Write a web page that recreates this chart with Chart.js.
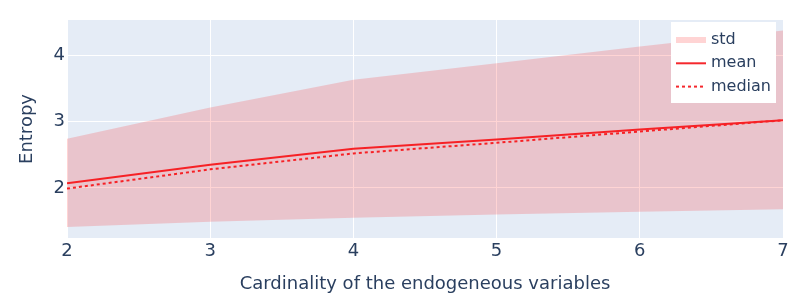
<!DOCTYPE html>
<html>
<head>
<meta charset="utf-8">
<script src="https://cdn.jsdelivr.net/npm/chart.js@4"></script>
<style>
  html, body { margin: 0; padding: 0; background: #fff; }
  #wrap { width: 797px; height: 297px; position: relative; }
</style>
</head>
<body>
<div id="wrap"><canvas id="chart"></canvas></div>
<script>
// values
const cardinality = [2, 3, 4, 5, 6, 7];
const meanEntropy = [2.07, 2.35, 2.59, 2.73, 2.88, 3.02];
const medianEntropy = [1.99, 2.28, 2.52, 2.68, 2.85, 3.02];
const stdUpper = [2.74, 3.21, 3.63, 3.88, 4.13, 4.37];
const stdLower = [1.41, 1.49, 1.55, 1.60, 1.64, 1.68];
const yTicks = [2, 3, 4];

const FONT = 'DejaVu Sans';
const TEXT = '#2a3f5f';
const LINE = 'rgb(245, 40, 45)';
const FILL = 'rgba(255, 0, 0, 0.17)';

const toPoints = vals => vals.map((v, i) => ({ x: cardinality[i], y: v }));

// plot background
const plotBg = {
  id: 'plotBg',
  beforeDraw(chart) {
    const { ctx, chartArea: a } = chart;
    ctx.save();
    ctx.fillStyle = '#E5ECF6';
    ctx.fillRect(a.left, a.top, a.right - a.left, a.bottom - a.top);
    ctx.restore();
  }
};

// plotly-like legend box in the top right corner
const legendBox = {
  id: 'legendBox',
  afterDraw(chart) {
    const { ctx } = chart;
    const x0 = 671, y0 = 22, w = 105, h = 81;
    ctx.save();
    ctx.fillStyle = '#fff';
    ctx.fillRect(x0, y0, w, h);
    const items = [
      { label: 'std', color: FILL, width: 6, dash: [] },
      { label: 'mean', color: LINE, width: 2, dash: [] },
      { label: 'median', color: LINE, width: 2, dash: [3, 3] }
    ];
    ctx.font = '16px "' + FONT + '"';
    ctx.textBaseline = 'middle';
    items.forEach((it, i) => {
      const cy = 40 + i * 23.3;
      ctx.beginPath();
      ctx.strokeStyle = it.color;
      ctx.lineWidth = it.width;
      ctx.setLineDash(it.dash);
      ctx.moveTo(676, cy);
      ctx.lineTo(706, cy);
      ctx.stroke();
      ctx.setLineDash([]);
      ctx.fillStyle = TEXT;
      ctx.fillText(it.label, 711, cy);
    });
    ctx.restore();
  }
};

new Chart(document.getElementById('chart'), {
  type: 'line',
  data: {
    datasets: [
      {
        label: 'std upper',
        data: toPoints(stdUpper),
        borderWidth: 0,
        borderColor: 'rgba(0,0,0,0)',
        backgroundColor: FILL,
        pointRadius: 0,
        fill: '+1'
      },
      {
        label: 'std lower',
        data: toPoints(stdLower),
        borderWidth: 0,
        borderColor: 'rgba(0,0,0,0)',
        pointRadius: 0,
        fill: false
      },
      {
        label: 'mean',
        data: toPoints(meanEntropy),
        borderColor: LINE,
        borderWidth: 2,
        pointRadius: 0,
        fill: false
      },
      {
        label: 'median',
        data: toPoints(medianEntropy),
        borderColor: LINE,
        borderWidth: 2,
        borderDash: [3, 3],
        pointRadius: 0,
        fill: false
      }
    ]
  },
  options: {
    responsive: true,
    maintainAspectRatio: false,
    animation: false,
    layout: { padding: { top: 20, right: 14, left: 0, bottom: 0 } },
    plugins: {
      legend: { display: false },
      tooltip: { enabled: false }
    },
    scales: {
      x: {
        type: 'linear',
        min: 2,
        max: 7,
        border: { display: false },
        grid: { color: '#fff', lineWidth: 1, drawTicks: false },
        ticks: {
          stepSize: 1,
          padding: 3,
          color: TEXT,
          font: { family: FONT, size: 18 }
        },
        title: {
          display: true,
          text: 'Cardinality of the endogeneous variables',
          color: TEXT,
          font: { family: FONT, size: 18 },
          padding: { top: 2, bottom: 2 }
        },
        afterFit: scale => { scale.height = 59; }
      },
      y: {
        min: 1.246,
        max: 4.53,
        border: { display: false },
        grid: { color: '#fff', lineWidth: 1, drawTicks: false },
        ticks: {
          padding: 2,
          color: TEXT,
          font: { family: FONT, size: 18 }
        },
        afterBuildTicks: scale => {
          scale.ticks = yTicks.map(v => ({ value: v }));
        },
        title: {
          display: true,
          text: 'Entropy',
          color: TEXT,
          font: { family: FONT, size: 18 },
          padding: { top: 17, bottom: 17 }
        },
        afterFit: scale => { scale.width = 67; }
      }
    }
  },
  plugins: [plotBg, legendBox]
});
</script>
</body>
</html>
